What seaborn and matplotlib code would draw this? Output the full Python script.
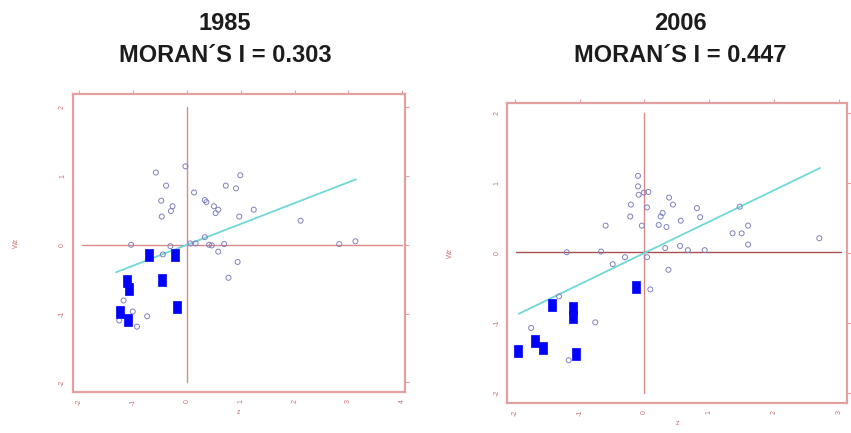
import numpy as np
import pandas as pd
import matplotlib.pyplot as plt
import seaborn as sns

# ── DATA ──────────────────────────────────────────────────────────────────────
years = ['1985', '2006']
moran_labels = ['MORAN\u00b4S I = 0.303', 'MORAN\u00b4S I = 0.447']
moran_i = [0.303, 0.447]
fit_x_range = [(-1.32, 3.14), (-1.94, 2.71)]

# 1985 - non significant points (z, Wz)
z_85 = [-0.58, -0.03, -0.39, -0.48, -0.27, -0.30, -0.47, 0.13, 0.33, 0.36,
        0.50, 0.58, 0.53, 0.72, 0.91, 0.99, 0.97, 1.24, 2.11, 2.83,
        3.13, -1.04, 0.06, 0.16, 0.33, 0.41, 0.46, 0.58, 0.69, 0.94,
        0.77, -0.31, -0.45, -1.18, -1.26, -1.01, -0.74, -0.93]
wz_85 = [1.05, 1.14, 0.86, 0.64, 0.56, 0.49, 0.41, 0.76, 0.65, 0.62,
         0.56, 0.51, 0.46, 0.86, 0.82, 1.01, 0.41, 0.51, 0.35, 0.01,
         0.05, 0.00, 0.02, 0.02, 0.11, 0.00, -0.01, -0.10, 0.01, -0.25,
         -0.48, -0.02, -0.14, -0.81, -1.10, -0.97, -1.04, -1.19]
# 1985 - significant low-low (filled squares)
z_85_sig = [-0.70, -0.23, -0.47, -0.18, -1.12, -1.08, -1.24, -1.10]
wz_85_sig = [-0.15, -0.15, -0.51, -0.91, -0.53, -0.64, -0.98, -1.10]

# 2006 - non significant points
z_06 = [-0.10, -0.10, -0.09, -0.01, 0.06, -0.21, -0.22, 0.04, -0.04, -0.60,
        0.38, 0.44, 0.28, 0.25, 0.22, 0.34, 0.56, 0.81, 0.86, 1.47,
        1.36, 1.50, 1.60, 1.60, 2.70, -1.20, -0.67, -0.30, -0.49, 0.04,
        0.32, 0.55, 0.67, 0.93, 0.37, 0.09, -1.32, -0.76, -1.75, -1.17]
wz_06 = [1.10, 0.95, 0.83, 0.86, 0.87, 0.69, 0.52, 0.65, 0.39, 0.39,
         0.79, 0.69, 0.57, 0.52, 0.40, 0.37, 0.46, 0.64, 0.51, 0.66,
         0.28, 0.28, 0.39, 0.12, 0.21, 0.01, 0.02, -0.06, -0.16, -0.06,
         0.07, 0.10, 0.04, 0.04, -0.24, -0.52, -0.62, -0.99, -1.07, -1.53]
z_06_sig = [-0.13, -1.43, -1.10, -1.10, -1.95, -1.69, -1.56, -1.06]
wz_06_sig = [-0.49, -0.74, -0.78, -0.91, -1.40, -1.26, -1.35, -1.44]

x_ticks = [np.arange(-2, 5), np.arange(-2, 4)]
y_ticks = np.arange(-2, 3)
x_limits = [(-2.12, 4.05), (-2.12, 3.13)]
y_limits = [(-2.14, 2.19), (-2.14, 2.14)]
hline_x = [(-1.95, 4.0), (-1.98, 3.03)]
hline_y = [0.0, 0.02]

# ── STYLE ─────────────────────────────────────────────────────────────────────
sns.set_style('white')
plt.rcParams['font.family'] = ['Liberation Sans', 'DejaVu Sans']

frame_col = '#e2a0a0'
cross_cols = ['#d98a8a', '#a85050']
circle_col = '#8080c0'
square_col = '#0000ff'
line_col = '#6fd8d8'
label_col = '#c87070'

square_marker = [(-0.34, -0.5), (0.34, -0.5), (0.34, 0.5), (-0.34, 0.5), (-0.34, -0.5)]

fig = plt.figure(figsize=(8.51, 4.33), dpi=100)
ax_boxes = [[0.0858, 0.0947, 0.390, 0.688], [0.596, 0.0693, 0.3995, 0.693]]
title_x = [225 / 851, 680 / 851]

panels = [
    (z_85, wz_85, z_85_sig, wz_85_sig),
    (z_06, wz_06, z_06_sig, wz_06_sig),
]

for i, (z, wz, zs, wzs) in enumerate(panels):
    ax = fig.add_axes(ax_boxes[i])

    # crosshair
    ax.plot([0, 0], [-2, 2], color=cross_cols[0], lw=1.0, zorder=1)
    ax.plot(list(hline_x[i]), [hline_y[i], hline_y[i]], color=cross_cols[i], lw=1.0, zorder=1)

    # regression line (slope = Moran's I)
    fx = np.array(fit_x_range[i])
    fit = pd.DataFrame({'z': fx, 'wz': moran_i[i] * fx})
    sns.lineplot(data=fit, x='z', y='wz', color=line_col, lw=1.3, ax=ax, zorder=2)

    pts = pd.DataFrame({'z': z, 'wz': wz})
    sns.scatterplot(data=pts, x='z', y='wz', ax=ax, s=13, marker='o',
                    facecolor='none', edgecolor=circle_col, linewidth=0.7, zorder=3)

    sig = pd.DataFrame({'z': zs, 'wz': wzs})
    sns.scatterplot(data=sig, x='z', y='wz', ax=ax, s=85, marker=square_marker,
                    color=square_col, edgecolor=square_col, linewidth=0.5, zorder=4)

    ax.set_xlim(*x_limits[i])
    ax.set_ylim(*y_limits[i])
    ax.set_xticks(x_ticks[i])
    ax.set_yticks(y_ticks)
    ax.set_xticklabels([str(v) for v in x_ticks[i]], rotation=90)
    ax.set_yticklabels([str(v) for v in y_ticks], rotation=90, va='center')
    ax.tick_params(which='both', direction='out', length=3, width=0.8,
                   colors=frame_col, labelcolor=label_col, labelsize=5,
                   top=True, right=True, pad=2)
    for sp in ax.spines.values():
        sp.set_color(frame_col)
        sp.set_linewidth(1.6)

    ax.set_xlabel('z', fontsize=5, color=label_col, labelpad=3)
    ax.set_ylabel('Wz', fontsize=5, color=label_col, labelpad=28)

    fig.text(title_x[i], 1 - 24 / 433, years[i], ha='center', va='center',
             fontsize=17, fontweight='bold', color='#1c1c1c')
    fig.text(title_x[i], 1 - 56 / 433, moran_labels[i], ha='center', va='center',
             fontsize=17, fontweight='bold', color='#1c1c1c')

fig.savefig('out.png', dpi=100)
